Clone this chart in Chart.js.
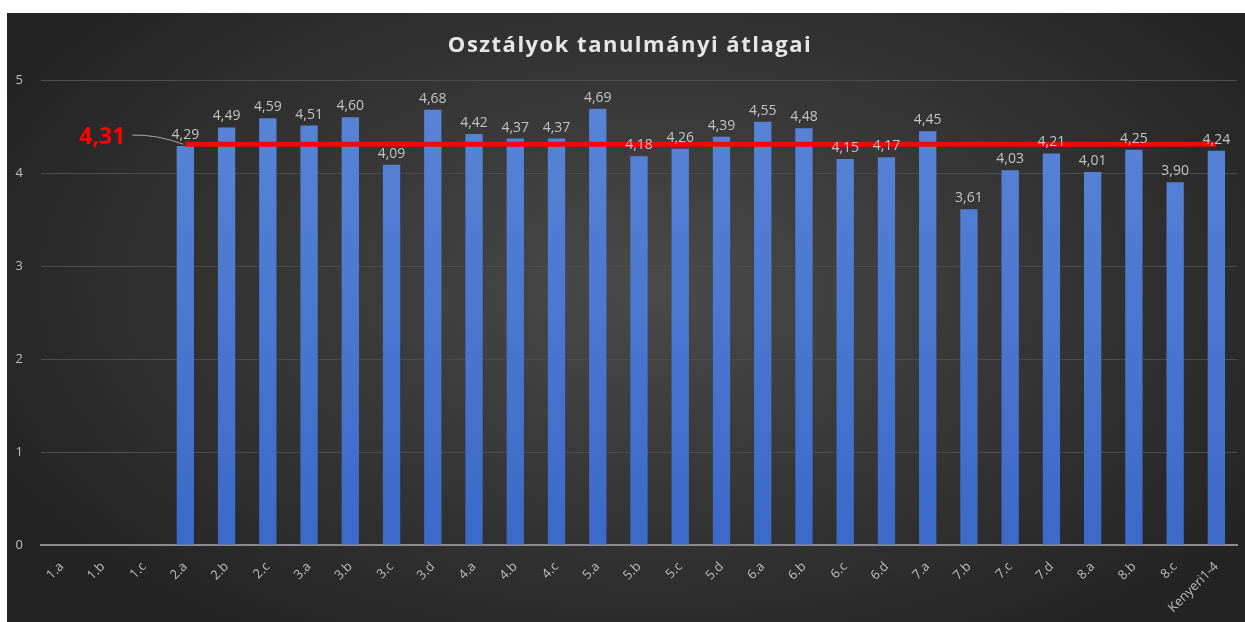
<!DOCTYPE html>
<html>
<head>
<meta charset="utf-8">
<script src="https://cdn.jsdelivr.net/npm/chart.js@4/dist/chart.umd.min.js"></script>
<style>
  html, body { margin: 0; padding: 0; background: #fff; }
  #box {
    position: absolute; left: 7px; top: 13px; width: 1238px; height: 609px;
    background: radial-gradient(ellipse 60% 70% at 52% 45%, #4a4a4a 0%, #383838 45%, #232323 100%);
  }
  canvas { display: block; }
</style>
</head>
<body>
<div id="box"><canvas id="chart" width="1238" height="609"></canvas></div>
<script>
const classes = ['1.a', '1.b', '1.c', '2.a', '2.b', '2.c', '3.a', '3.b', '3.c', '3.d',
    '4.a', '4.b', '4.c', '5.a', '5.b', '5.c', '5.d', '6.a', '6.b', '6.c', '6.d',
    '7.a', '7.b', '7.c', '7.d', '8.a', '8.b', '8.c', 'Kenyeri1-4'];
const averages = [null, null, null, 4.29, 4.49, 4.59, 4.51, 4.60, 4.09, 4.68,
    4.42, 4.37, 4.37, 4.69, 4.18, 4.26, 4.39, 4.55, 4.48, 4.15, 4.17,
    4.45, 3.61, 4.03, 4.21, 4.01, 4.25, 3.90, 4.24];
const schoolAvg = 4.31;
const avgLine = averages.map(v => v === null ? null : schoolAvg);

const fmt = (v) => v.toFixed(2).replace('.', ',');

// labels above the bars
const barLabels = {
    id: 'barLabels',
    afterDatasetsDraw(chart) {
        const ctx = chart.ctx;
        const meta = chart.getDatasetMeta(1);
        ctx.save();
        ctx.font = '14px "Open Sans", sans-serif';
        ctx.fillStyle = '#c4c4c4';
        ctx.textAlign = 'center';
        ctx.textBaseline = 'bottom';
        meta.data.forEach((bar, i) => {
            if (averages[i] === null) return;
            ctx.fillText(fmt(averages[i]), bar.x, bar.y - 4);
        });
        ctx.restore();
    }
};

// title, average label with leader line
const extras = {
    id: 'extras',
    afterDraw(chart) {
        const ctx = chart.ctx;
        const x = chart.scales.x;
        const y = chart.scales.y;
        ctx.save();
        ctx.font = 'bold 22px "Open Sans", sans-serif';
        ctx.letterSpacing = '1.5px';
        ctx.fillStyle = '#e6e6e6';
        ctx.textAlign = 'center';
        ctx.textBaseline = 'middle';
        ctx.fillText('Osztályok tanulmányi átlagai', 623, 33);
        ctx.letterSpacing = '0px';

        const first = averages.findIndex(v => v !== null);
        const x0 = x.getPixelForValue(first);
        const y0 = y.getPixelForValue(schoolAvg);
        ctx.strokeStyle = '#a6a6a6';
        ctx.lineWidth = 1;
        ctx.beginPath();
        ctx.moveTo(x0 - 53, y0 - 9);
        ctx.quadraticCurveTo(x0 - 30, y0 - 10, x0 - 2, y0);
        ctx.stroke();

        ctx.font = 'bold 23px "Open Sans", sans-serif';
        ctx.fillStyle = '#ff0000';
        ctx.textAlign = 'right';
        ctx.fillText(fmt(schoolAvg), x0 - 60, y0 - 7);
        ctx.restore();
    }
};

const ctx = document.getElementById('chart').getContext('2d');
const grad = ctx.createLinearGradient(0, 67, 0, 532);
grad.addColorStop(0, '#5a86d8');
grad.addColorStop(1, '#3b69c8');

new Chart(ctx, {
    type: 'bar',
    data: {
        labels: classes,
        datasets: [{
            type: 'line',
            label: 'Iskolai átlag',
            data: avgLine,
            borderColor: '#ff0000',
            borderWidth: 5,
            pointRadius: 0,
            fill: false,
            order: 0
        }, {
            label: 'Átlag',
            data: averages,
            backgroundColor: grad,
            categoryPercentage: 1,
            barPercentage: 0.42,
            order: 1
        }]
    },
    options: {
        responsive: false,
        animation: false,
        layout: { padding: { top: 67, left: 0, right: 8, bottom: 0 } },
        plugins: {
            legend: { display: false },
            tooltip: { enabled: false }
        },
        scales: {
            x: {
                afterFit: (s) => { s.height = 77; },
                grid: { display: false },
                border: { display: true, color: '#8c8c8c', width: 2 },
                ticks: {
                    color: '#bfbfbf',
                    font: { size: 13, family: '"Open Sans", sans-serif' },
                    minRotation: 45,
                    maxRotation: 45,
                    autoSkip: false,
                    padding: 6
                }
            },
            y: {
                min: 0,
                max: 5,
                afterFit: (s) => { s.width = 34; },
                border: { display: false },
                grid: { color: '#4d4d4d', lineWidth: 1, drawTicks: false },
                ticks: {
                    stepSize: 1,
                    color: '#bfbfbf',
                    font: { size: 13, family: '"Open Sans", sans-serif' },
                    padding: 18
                }
            }
        }
    },
    plugins: [barLabels, extras]
});
</script>
</body>
</html>
